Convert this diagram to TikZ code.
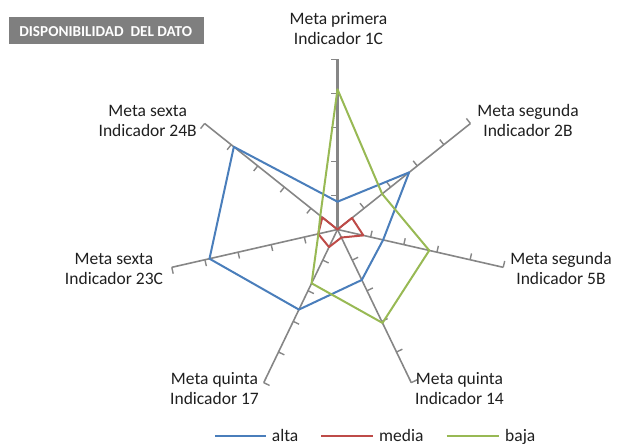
\documentclass[tikz,border=0pt]{standalone}
\usepackage{fontspec}
\setmainfont{Carlito}
\definecolor{altac}{HTML}{4A7EBB}
\definecolor{mediac}{HTML}{BE4B48}
\definecolor{bajac}{HTML}{98B954}
\definecolor{axisc}{HTML}{868686}
\definecolor{titlec}{HTML}{7F7F7F}
\tikzset{
  axisline/.style={draw=axisc, line width=1.6pt, line cap=butt},
  mainaxis/.style={draw=axisc, line width=2.5pt},
  tickmark/.style={draw=axisc, line width=1.4pt},
  serie/.style={line width=2pt, line join=round},
  alta/.style={serie, draw=altac},
  media/.style={serie, draw=mediac},
  baja/.style={serie, draw=bajac},
  lbl/.style={anchor=base, inner sep=0pt, font=\fontsize{17.5}{20.5}\selectfont, text=black!88},
  legtext/.style={anchor=base west, inner sep=0pt, font=\fontsize{17.5}{20.5}\selectfont, text=black!88},
  titlebox/.style={fill=titlec, draw=none, minimum width=195.3pt, minimum height=27pt, inner sep=0pt},
  titletext/.style={anchor=base, inner sep=0pt, text=white, font=\bfseries\fontsize{15.2}{17}\selectfont}
}
\begin{document}
\begin{tikzpicture}[x=1pt,y=1pt]
\useasboundingbox (0,0) rectangle (618,446);
% title
\node[titlebox] (tbox) at (106.7,415.2) {};
\node[titletext] (ttext) at (105.7,409) {DISPONIBILIDAD\ \ DEL DATO};
% chart
\begin{scope}[shift={(337.5,216.5)}]
  \coordinate (O) at (0,0);
  \foreach \i/\a in {1/90,2/38.5714,3/-12.8571,4/-64.2857,5/-115.7143,6/-167.1429,7/141.4286}{
    \coordinate (e\i) at (\a:170);
    \foreach \k in {1,...,5}{
      \draw[tickmark] (\a:{\k*34}) -- ++({\a+90}:6.5);
    }
  }
  \foreach \i in {2,...,7}{ \draw[axisline] (O) -- (e\i); }
  \draw[mainaxis] (O) -- (e1);
  % alta
  \coordinate (b1) at (90:27.8);
  \coordinate (b2) at (38.5714:91.6);
  \coordinate (b3) at (-12.8571:46.8);
  \coordinate (b4) at (-64.2857:56);
  \coordinate (b5) at (-115.7143:88.9);
  \coordinate (b6) at (-167.1429:131.3);
  \coordinate (b7) at (141.4286:132.6);
  % media
  \coordinate (r1) at (0,0);
  \coordinate (r2) at (38.5714:18.5);
  \coordinate (r3) at (-12.8571:26.5);
  \coordinate (r4) at (-64.2857:8.9);
  \coordinate (r5) at (-115.7143:19.5);
  \coordinate (r6) at (-167.1429:19.8);
  \coordinate (r7) at (141.4286:19.4);
  % baja
  \coordinate (g1) at (90:140.2);
  \coordinate (g2) at (38.5714:57.1);
  \coordinate (g3) at (-12.8571:94.1);
  \coordinate (g4) at (-64.2857:103.7);
  \coordinate (g5) at (-115.7143:59.7);
  \coordinate (g6) at (-167.1429:19.6);
  \coordinate (g7) at (141.4286:22);
  \draw[alta] (b1) -- (b2) -- (b3) -- (b4) -- (b5) -- (b6) -- (b7) -- cycle;
  \draw[media] (r1) -- (r2) -- (r3) -- (r4) -- (r5) -- (r6) -- (r7) -- cycle;
  \draw[baja] (g1) -- (g2) -- (g3) -- (g4) -- (g5) -- (g6) -- (g7) -- cycle;
\end{scope}
% axis labels
\node[lbl] (l1a) at (338.5,421.5) {Meta primera};
\node[lbl] (l1b) at (338.5,401) {Indicador 1C};
\node[lbl] (l2a) at (528,329.8) {Meta segunda};
\node[lbl] (l2b) at (528,309.3) {Indicador 2B};
\node[lbl] (l3a) at (561,181.5) {Meta segunda};
\node[lbl] (l3b) at (561,161) {Indicador 5B};
\node[lbl] (l4a) at (459.5,61.5) {Meta quinta};
\node[lbl] (l4b) at (459.5,41) {Indicador 14};
\node[lbl] (l5a) at (214.5,61.5) {Meta quinta};
\node[lbl] (l5b) at (214.5,41) {Indicador 17};
\node[lbl] (l6a) at (114,181.5) {Meta sexta};
\node[lbl] (l6b) at (114,161) {Indicador 23C};
\node[lbl] (l7a) at (147.7,329.8) {Meta sexta};
\node[lbl] (l7b) at (147.7,309.3) {Indicador 24B};
% legend
\coordinate (la0) at (215,9.5); \coordinate (la1) at (265.7,9.5);
\coordinate (lm0) at (321,9.5); \coordinate (lm1) at (373.3,9.5);
\coordinate (lg0) at (446.7,9.5); \coordinate (lg1) at (499,9.5);
\draw[alta] (la0) -- (la1);
\draw[media] (lm0) -- (lm1);
\draw[baja] (lg0) -- (lg1);
\node[legtext] (ta) at (271.7,4.3) {alta};
\node[legtext] (tm) at (379,4.3) {media};
\node[legtext] (tg) at (505,4.3) {baja};
\end{tikzpicture}
\end{document}
